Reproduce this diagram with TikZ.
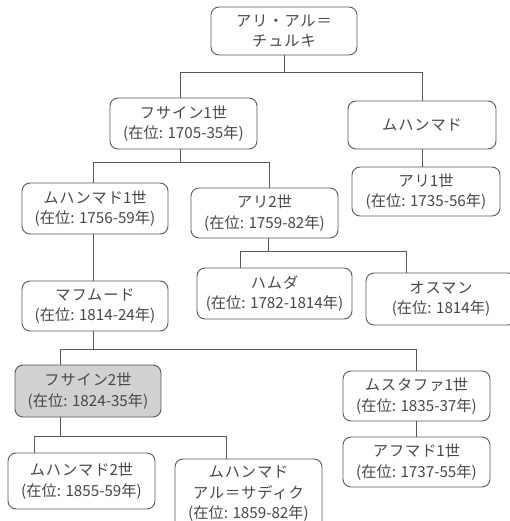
\documentclass[tikz,border=0pt]{standalone}
\usepackage{fontspec}
\setmainfont{Noto Sans CJK JP}
\newfontfamily\kanafont[LetterSpace=6]{Noto Sans CJK JP}
\newcommand{\kn}[1]{{\kanafont #1}}
\begin{document}
\begin{tikzpicture}[x=1pt,y=-1pt,
  every node/.style={font=\fontsize{15.2}{20.5}\selectfont, text=black!72},
  box/.style={draw=black!65, line width=0.9pt, rounded corners=8pt, fill=white, align=center, inner sep=0pt},
  hl/.style={box, fill=black!18},
  conn/.style={draw=black!65, line width=0.9pt}]
\useasboundingbox (0,0) rectangle (510,521);
\clip (0,0) rectangle (510,521);
\fill[white] (0,0) rectangle (510,521);
% boxes
\node[box, minimum width=146pt, minimum height=48pt] (top) at (284,31) {\kn{アリ・アル＝}\\\kn{チュルキ}};
\node[box, minimum width=147pt, minimum height=51pt] (hus1) at (183.5,123.5) {\kn{フサイン}1世\\(在位: 1705-35年)};
\node[box, minimum width=148pt, minimum height=48pt] (muh) at (422,125) {\kn{ムハンマド}};
\node[box, minimum width=148pt, minimum height=49pt] (ali1) at (426,191.5) {\kn{アリ}1世\\(在位: 1735-56年)};
\node[box, minimum width=146pt, minimum height=51pt] (muh1) at (95,208.5) {\kn{ムハンマド}1世\\(在位: 1756-59年)};
\node[box, minimum width=147pt, minimum height=50pt] (ali2) at (264.5,213) {\kn{アリ}2世\\(在位: 1759-82年)};
\node[box, minimum width=146pt, minimum height=50pt] (mah) at (95,306) {\kn{マフムード}\\(在位: 1814-24年)};
\node[box, minimum width=155pt, minimum height=51pt] (ham) at (274.5,293.5) {\kn{ハムダ}\\(在位: 1782-1814年)};
\node[box, minimum width=150pt, minimum height=52pt] (osm) at (441,299) {\kn{オスマン}\\(在位: 1814年)};
\node[hl, minimum width=146pt, minimum height=52pt] (hus2) at (88,391) {\kn{フサイン}2世\\(在位: 1824-35年)};
\node[box, minimum width=147pt, minimum height=50pt] (mus1) at (416.5,396) {\kn{ムスタファ}1世\\(在位: 1835-37年)};
\node[box, minimum width=147pt, minimum height=50pt] (ahm1) at (416.5,462) {\kn{アフマド}1世\\(在位: 1737-55年)};
\node[box, minimum width=147pt, minimum height=56pt] (muh2) at (81.5,481) {\kn{ムハンマド}2世\\(在位: 1855-59年)};
\node[box, minimum width=147pt, minimum height=70pt] (sad) at (248.5,494) {\kn{ムハンマド}\\\kn{アル＝サディク}\\(在位: 1859-82年)};
% connectors
\draw[conn] (top.south) -- ++(0,17) coordinate (j1);
\draw[conn] ([xshift=-3.5pt]hus1.north) |- (j1) -| (muh.north);
\draw[conn] (muh.south) -- (muh.south |- ali1.north);
\draw[conn] ([xshift=-3.5pt]hus1.south) -- ++(0,13) coordinate (j2);
\draw[conn] ([xshift=-2pt]muh1.north) |- (j2) -| ([xshift=4.5pt]ali2.north);
\draw[conn] ([xshift=-2pt]muh1.south) -- ([xshift=-2pt]mah.north);
\draw[conn] ([xshift=3.5pt]ali2.south) -- ++(0,13) coordinate (j3);
\draw[conn] ([xshift=-34.5pt]ham.north) |- (j3) -| ([xshift=-35pt]osm.north);
\draw[conn] ([xshift=-2pt]mah.south) -- ++(0,18) coordinate (j4);
\draw[conn] ([xshift=-28pt]hus2.north) |- (j4) -| (mus1.north);
\draw[conn] (mus1.south) -- (ahm1.north);
\draw[conn] ([xshift=-28pt]hus2.south) -- ++(0,19) coordinate (j5);
\draw[conn] ([xshift=-47.5pt]muh2.north) |- (j5) -| ([xshift=-22.5pt]sad.north);
\end{tikzpicture}
\end{document}
